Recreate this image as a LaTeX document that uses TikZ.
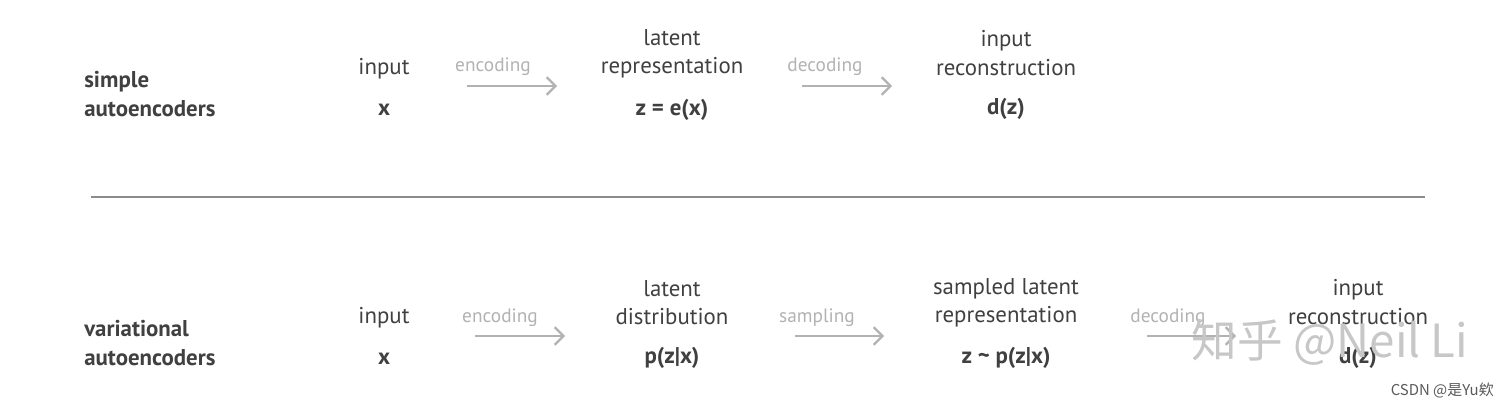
\documentclass[tikz,border=0pt]{standalone}
\usepackage{fontspec}
\setmainfont{PT Sans}
\newfontfamily\cjk{Noto Sans CJK SC}
\usetikzlibrary{arrows.meta}

\begin{document}
\begin{tikzpicture}[
        x=0.02cm, y=-0.02cm,
        label/.style={
            align=center,
            inner sep=0pt,
            text=black!75,
            font=\fontsize{13}{16}\selectfont
        },
        rowname/.style={
            align=left,
            anchor=west,
            inner sep=0pt,
            text=black!75,
            font=\fontsize{13}{16}\selectfont\bfseries
        },
        formula/.style={
            inner sep=0pt,
            text=black!75,
            font=\fontsize{13}{16}\selectfont\bfseries
        },
        steplabel/.style={
            inner sep=0pt,
            text=black!30,
            font=\fontsize{11}{13}\selectfont
        },
        arrow/.style={-{Straight Barb[length=5pt,width=10pt]}, black!30, line width=1.3pt}
    ]

        \useasboundingbox (0,0) rectangle (1510,408);

        % simple autoencoders
        \node[rowname] (sae) at (84,94) {simple\\autoencoders};
        \node[label] (in1) at (384,69) {input};
        \node[formula] (x1) at (384,110) {x};
        \node[steplabel] (enc1) at (493,67) {encoding};
        \node[label] (lat1) at (672,54) {latent\\representation};
        \node[formula] (z1) at (672,110) {z = e(x)};
        \node[steplabel] (dec1) at (825,67) {decoding};
        \node[label] (rec1) at (1006,53) {input\\reconstruction};
        \node[formula] (d1) at (1006,109) {d(z)};

        \coordinate (e1a) at (467,86);
        \coordinate (e1b) at (557,86);
        \coordinate (d1a) at (802,86);
        \coordinate (d1b) at (892,86);
        \draw[arrow] (e1a) -- (e1b);
        \draw[arrow] (d1a) -- (d1b);

        % separator
        \coordinate (sepl) at (91,197);
        \coordinate (sepr) at (1425,197);
        \draw[black!45, line width=1.4pt] (sepl) -- (sepr);

        % variational autoencoders
        \node[rowname] (vae) at (84,343) {variational\\autoencoders};
        \node[label] (in2) at (384,318) {input};
        \node[formula] (x2) at (384,359) {x};
        \node[steplabel] (enc2) at (500,318) {encoding};
        \node[label] (lat2) at (672,303) {latent\\distribution};
        \node[formula] (p2) at (672,358) {p(z|x)};
        \node[steplabel] (smp2) at (817,318) {sampling};
        \node[label] (smp) at (1006,303) {sampled latent\\representation};
        \node[formula] (z2) at (1006,358) {z \textasciitilde{} p(z|x)};
        \node[steplabel] (dec2) at (1168,318) {decoding};
        \node[label] (rec2) at (1358,302) {input\\reconstruction};
        \node[formula] (d2) at (1358,358) {d(z)};

        \coordinate (e2a) at (475,336);
        \coordinate (e2b) at (565,336);
        \coordinate (s2a) at (795,336);
        \coordinate (s2b) at (884,336);
        \coordinate (d2a) at (1147,336);
        \coordinate (d2b) at (1236,336);
        \draw[arrow] (e2a) -- (e2b);
        \draw[arrow] (s2a) -- (s2b);
        \draw[arrow] (d2a) -- (d2b);

        % watermarks
        \node[inner sep=0pt, text=black!22, font=\cjk\fontsize{26}{30}\selectfont] (wm) at (1330,342) {知乎 @Neil Li};
        \node[inner sep=0pt, anchor=east, text=black!65, font=\cjk\fontsize{8.5}{10}\selectfont] (csdn) at (1494,391) {CSDN @是Yu欸};

    \end{tikzpicture}
\end{document}
